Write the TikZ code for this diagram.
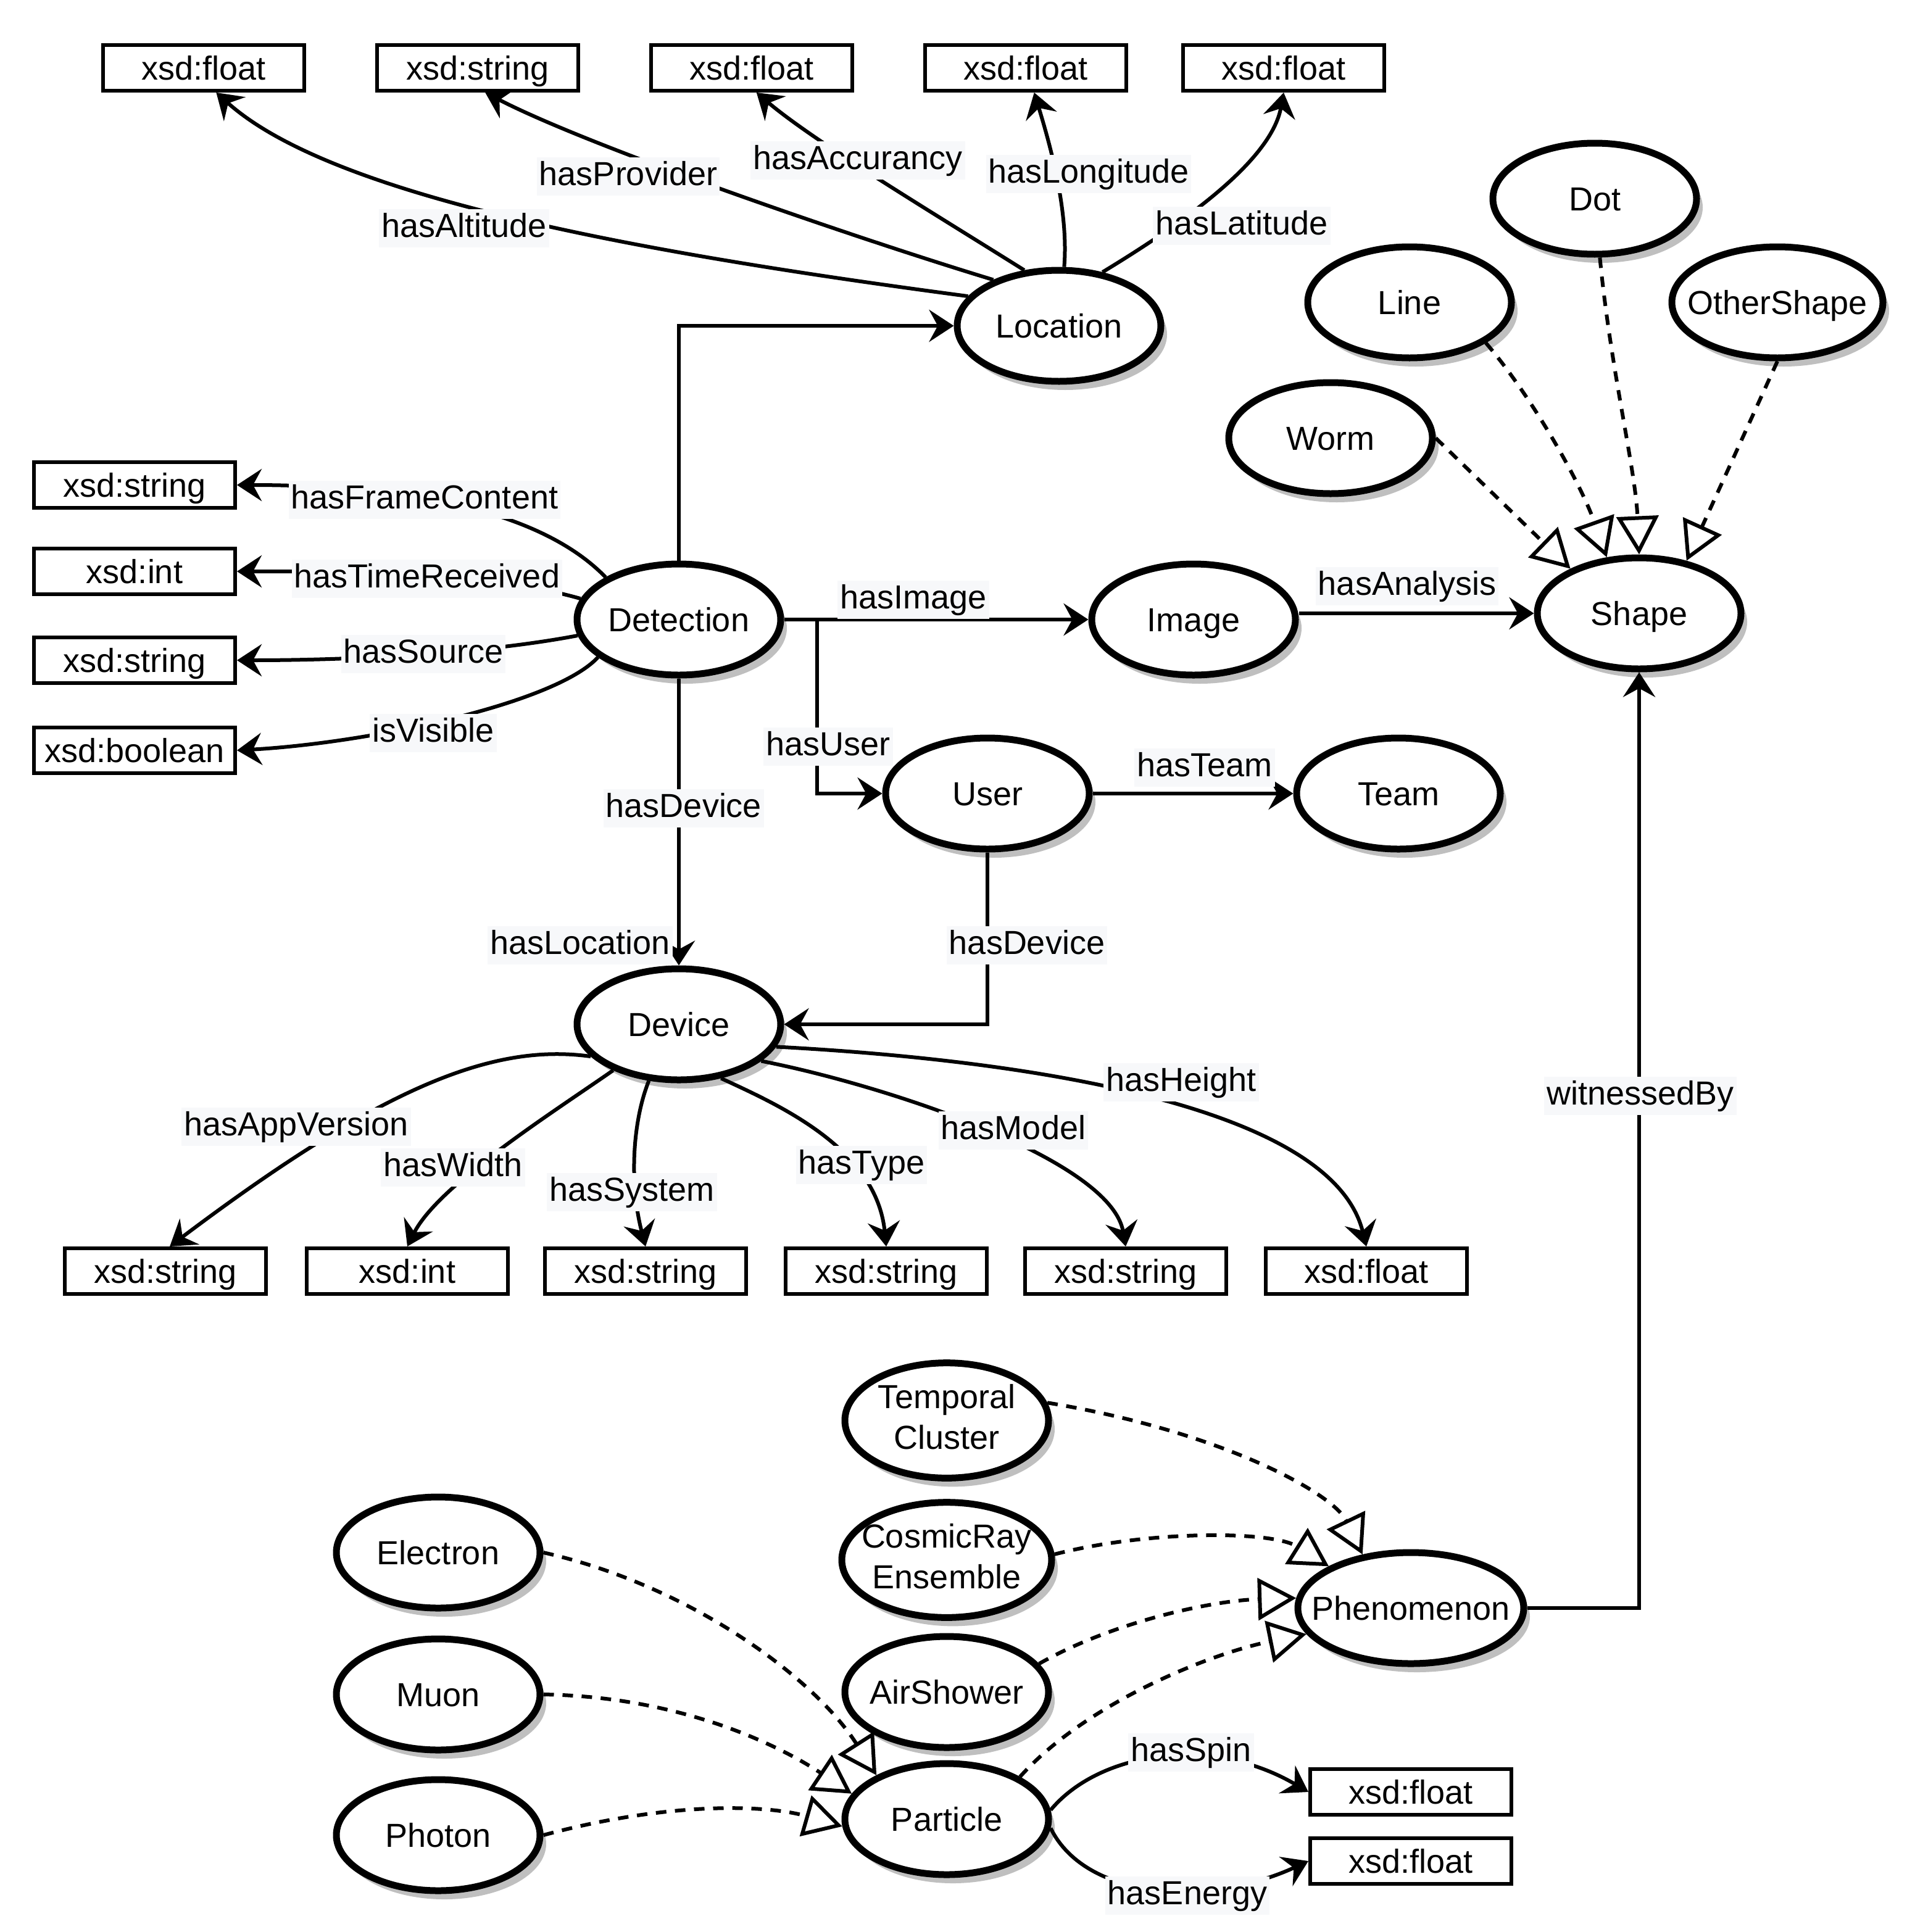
\documentclass[tikz,border=0pt]{standalone}
\usepackage{fontspec}
\setmainfont{Liberation Sans}
\usetikzlibrary{shapes.geometric,arrows.meta,shadows}
\definecolor{lblbg}{RGB}{247,248,250}
\newcommand{\dgfont}{\fontsize{27}{33}\selectfont}
\newcommand{\ctxt}[1]{\makebox[0pt]{#1}}
\newcommand{\ctwo}[2]{\makebox[0pt]{\begin{tabular}{@{}c@{}}#1\\#2\end{tabular}}}
\begin{document}
\begin{tikzpicture}[x=1pt,y=-1pt,
  cls/.style={ellipse, draw, line width=5.5pt, fill=white, minimum width=165pt, minimum height=90pt, inner sep=0pt, font=\dgfont,
    drop shadow={shadow xshift=5pt, shadow yshift=-7pt, fill=black!25, opacity=1, draw=none}},
  c1/.style={cls, text height=19.5pt, text depth=0pt},
  c2/.style={cls},
  lit/.style={rectangle, draw, line width=3pt, fill=white, minimum width=163pt, minimum height=37pt, inner sep=0pt, font=\dgfont, text height=19.5pt, text depth=0pt},
  edge/.style={line width=3pt, -{Stealth[length=20pt,width=26pt,inset=7pt]}},
  sub/.style={line width=3pt, dash pattern=on 8.5pt off 7pt, -{Triangle[open,length=31pt,width=34pt,line width=3pt]}},
  lbl/.style={fill=lblbg, inner xsep=2pt, inner ysep=3pt, font=\dgfont, text height=19.5pt, text depth=5.5pt}
]
\useasboundingbox (0,0) rectangle (1551,1565.5);

% ---------- class nodes ----------
\node[c1] (loc) at (858,264) {\ctxt{Location}};
\node[c1] (det) at (550,502) {\ctxt{Detection}};
\node[c1] (img) at (967,502) {\ctxt{Image}};
\node[c1] (shape) at (1328,497) {\ctxt{Shape}};
\node[c1] (user) at (800,643) {\ctxt{User}};
\node[c1] (team) at (1133,643) {\ctxt{Team}};
\node[c1] (dev) at (550,830) {\ctxt{Device}};
\node[c1] (dot) at (1292,161) {\ctxt{Dot}};
\node[c1] (lineN) at (1142,245) {\ctxt{Line}};
\node[c1, minimum width=171pt] (other) at (1440,245) {\ctxt{OtherShape}};
\node[c1] (worm) at (1078,355) {\ctxt{Worm}};
\node[c2] (tc) at (767,1151) {\ctwo{Temporal}{Cluster}};
\node[c2, minimum width=170pt] (cr) at (767,1264) {\ctwo{CosmicRay}{Ensemble}};
\node[c1] (as) at (767,1371) {\ctxt{AirShower}};
\node[c1, minimum width=183pt] (phen) at (1143,1303) {\ctxt{Phenomenon}};
\node[c1] (el) at (355,1258) {\ctxt{Electron}};
\node[c1] (mu) at (355,1373) {\ctxt{Muon}};
\node[c1] (ph) at (355,1487) {\ctxt{Photon}};
\node[c1] (part) at (767,1474) {\ctxt{Particle}};

% ---------- literal boxes ----------
\node[lit] (b1) at (165,55) {xsd:float};
\node[lit] (b2) at (387,55) {xsd:string};
\node[lit] (b3) at (609,55) {xsd:float};
\node[lit] (b4) at (831,55) {xsd:float};
\node[lit] (b5) at (1040,55) {xsd:float};
\node[lit] (lb1) at (109,393) {xsd:string};
\node[lit] (lb2) at (109,463) {xsd:int};
\node[lit] (lb3) at (109,535) {xsd:string};
\node[lit] (lb4) at (109,608) {xsd:boolean};
\node[lit] (bb1) at (134,1030) {xsd:string};
\node[lit] (bb2) at (330,1030) {xsd:int};
\node[lit] (bb3) at (523,1030) {xsd:string};
\node[lit] (bb4) at (718,1030) {xsd:string};
\node[lit] (bb5) at (912,1030) {xsd:string};
\node[lit] (bb6) at (1107,1030) {xsd:float};
\node[lit] (sp) at (1143,1452) {xsd:float};
\node[lit] (en) at (1143,1508) {xsd:float};

\coordinate (branch) at (662,502);

% ---------- Location properties ----------
\draw[edge] (loc.162) .. controls (520,205) and (270,160) .. (b1.-63);
\draw[edge] (loc.145) .. controls (700,195) and (480,120) .. (b2.-73);
\draw[edge] (loc.122) .. controls (760,175) and (660,115) .. (b3.-79);
\draw[edge] (loc.85) .. controls (866,170) and (850,115) .. (b4.-71);
\draw[edge] (loc.51) .. controls (960,180) and (1030,130) .. (b5.south);

% ---------- Detection properties ----------
\draw[edge] (det.150) .. controls (430,405) and (300,393) .. (lb1.east);
\draw[edge] (det.168) .. controls (400,465) and (300,463) .. (lb2.east);
\draw[edge] (det.189) .. controls (400,528) and (300,535) .. (lb3.east);
\draw[edge] (det.205) .. controls (450,570) and (300,602) .. (lb4.east);
\draw[edge] (det.north) |- (loc.west);
\draw[edge] (det.east) -- (img.west);
\draw[edge] (det.east) -- (branch) |- (user.west);
\draw[edge] (det.south) -- (dev.north);
\draw[edge] (user.east) -- (team.west);
\draw[edge] (user.south) |- (dev.east);
\draw[edge] (shape.west -| img.east) -- (shape.west);
\draw[edge] (phen.east) -| (shape.south);

% ---------- Device properties ----------
\draw[edge] (dev.200) .. controls (400,845) and (310,880) .. (bb1.80);
\draw[edge] (dev.215) .. controls (450,900) and (355,960) .. (bb2.north);
\draw[edge] (dev.242) .. controls (512,910) and (510,960) .. (bb3.north);
\draw[edge] (dev.308) .. controls (630,895) and (710,930) .. (bb4.north);
\draw[edge] (dev.336) .. controls (720,880) and (900,940) .. (bb5.north);
\draw[edge] (dev.347) .. controls (850,860) and (1080,900) .. (bb6.north);

% ---------- Shape subclasses ----------
\draw[sub] (worm.east) -- (shape.147);
\draw[sub] (lineN.-28) .. controls (1240,320) and (1280,390) .. (shape.120);
\draw[sub] (dot.-85) .. controls (1305,300) and (1325,380) .. (shape.north);
\draw[sub] (other.south) -- (shape.48);

% ---------- Phenomenon subclasses ----------
\draw[sub] (tc.10) .. controls (990,1160) and (1080,1210) .. (phen.132);
\draw[sub] (cr.3) .. controls (930,1240) and (1030,1240) .. (phen.153);
\draw[sub] (as.17) .. controls (900,1315) and (980,1297) .. (phen.175);
\draw[sub] (part.30) .. controls (880,1380) and (980,1340) .. (phen.194);

% ---------- Particle subclasses ----------
\draw[sub] (el.east) .. controls (560,1285) and (660,1360) .. (part.148);
\draw[sub] (mu.east) .. controls (560,1375) and (640,1420) .. (part.165);
\draw[sub] (ph.east) .. controls (540,1460) and (620,1462) .. (part.184);

% ---------- Particle properties ----------
\draw[edge] (part.5) .. controls (890,1420) and (980,1405) .. (sp.west);
\draw[edge] (part.-5) .. controls (880,1540) and (980,1545) .. (en.west);

% ---------- labels ----------
\node[lbl] (l1) at (376,185) {hasAltitude};
\node[lbl] (l2) at (509,143) {hasProvider};
\node[lbl] (l3) at (695,130) {hasAccurancy};
\node[lbl] (l4) at (882,141) {hasLongitude};
\node[lbl] (l5) at (1006,183) {hasLatitude};
\node[lbl] (l6) at (344,405) {hasFrameContent};
\node[lbl] (l7) at (346,469) {hasTimeReceived};
\node[lbl] (l8) at (343,530) {hasSource};
\node[lbl] (l9) at (351,594) {isVisible};
\node[lbl] (l10) at (740,486) {hasImage};
\node[lbl] (l11) at (1140,475) {hasAnalysis};
\node[lbl] (l12) at (671,605) {hasUser};
\node[lbl] (l13) at (976,622) {hasTeam};
\node[lbl] (l14) at (554,655) {hasDevice};
\node[lbl] (l15) at (470,766) {hasLocation};
\node[lbl] (l16) at (832,766) {hasDevice};
\node[lbl] (l17) at (1329,888) {witnessedBy};
\node[lbl] (l18) at (240,913) {hasAppVersion};
\node[lbl] (l19) at (367,946) {hasWidth};
\node[lbl] (l20) at (512,966) {hasSystem};
\node[lbl] (l21) at (698,944) {hasType};
\node[lbl] (l22) at (821,916) {hasModel};
\node[lbl] (l23) at (957,877) {hasHeight};
\node[lbl] (l24) at (965,1420) {hasSpin};
\node[lbl] (l25) at (962,1536) {hasEnergy};
\end{tikzpicture}
\end{document}
